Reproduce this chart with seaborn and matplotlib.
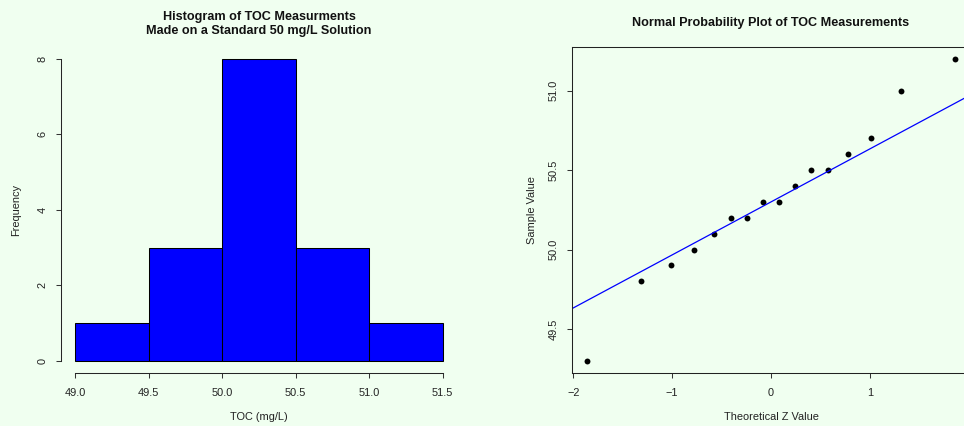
import numpy as np
import pandas as pd
import matplotlib
matplotlib.use("Agg")
import matplotlib.pyplot as plt
import seaborn as sns

# ---- data ----
toc = [49.3, 49.8, 49.9, 50.0, 50.1, 50.2, 50.2, 50.3,
       50.3, 50.4, 50.5, 50.5, 50.6, 50.7, 51.0, 51.2]
theoretical_z = [-1.86, -1.32, -1.01, -0.78, -0.58, -0.40, -0.24, -0.08,
                 0.08, 0.24, 0.40, 0.58, 0.78, 1.01, 1.32, 1.86]
bin_edges = [49.0, 49.5, 50.0, 50.5, 51.0, 51.5]
hist_xticks = [49.0, 49.5, 50.0, 50.5, 51.0, 51.5]
hist_yticks = [0, 2, 4, 6, 8]
qq_xticks = [-2, -1, 0, 1]
qq_xticklabels = ["\u22122", "\u22121", "0", "1"]
qq_yticks = [49.5, 50.0, 50.5, 51.0]
z_quartile = 0.6745

BG = "#F0FFF0"
sns.set_theme(style="ticks")
plt.rcParams["font.family"] = ["Liberation Sans", "DejaVu Sans"]
plt.rcParams["axes.linewidth"] = 0.75
plt.rcParams["xtick.major.width"] = 0.75
plt.rcParams["ytick.major.width"] = 0.75
plt.rcParams["xtick.major.size"] = 3.6
plt.rcParams["ytick.major.size"] = 3.6

W, H = 964, 426
fig = plt.figure(figsize=(W / 100, H / 100), dpi=100, facecolor=BG)

def frac(l, t, r, b):
    return [l / W, 1 - b / H, (r - l) / W, (b - t) / H]

TICK_FS = 7.9
LAB_FS = 7.9
TITLE_FS = 9.05

# ---- left: histogram ----
ax1 = fig.add_axes(frac(60.6, 46.9, 457.4, 372.8))
ax1.set_facecolor(BG)
df = pd.DataFrame({"toc": toc})
# R histograms use right-closed bins
edges_rc = np.array(bin_edges) + 1e-9
sns.histplot(data=df, x="toc", bins=edges_rc, color="blue", edgecolor="black",
             linewidth=0.75, alpha=1.0, ax=ax1)
ax1.set_xlim(48.9, 51.6)
ax1.set_ylim(-0.32, 8.32)
ax1.set_xticks(hist_xticks)
ax1.set_xticklabels([f"{v:.1f}" for v in hist_xticks], fontsize=TICK_FS)
ax1.set_yticks(hist_yticks)
ax1.set_yticklabels([str(v) for v in hist_yticks], fontsize=TICK_FS,
                    rotation=90, va="center")
for s in ["top", "right"]:
    ax1.spines[s].set_visible(False)
ax1.spines["bottom"].set_bounds(49.0, 51.5)
ax1.spines["left"].set_bounds(0, 8)
ax1.tick_params(axis="x", pad=7, colors="#333333", labelcolor="#222222")
ax1.tick_params(axis="y", pad=6, colors="#333333", labelcolor="#222222")
ax1.set_xlabel("TOC (mg/L)", fontsize=LAB_FS, color="#222222")
ax1.set_ylabel("Frequency", fontsize=LAB_FS, color="#222222")
ax1.xaxis.set_label_coords(0.5, -(416.7 - 372.8) / 325.9)
ax1.xaxis.label.set_va("center")
ax1.yaxis.set_label_coords(-(60.6 - 15.7) / 396.8, 0.5)
ax1.yaxis.label.set_va("center")
ax1.set_title("Histogram of TOC Measurments\nMade on a Standard 50 mg/L Solution",
              fontsize=TITLE_FS, fontweight="bold", color="#111111",
              linespacing=1.3, pad=9)

# ---- right: normal probability plot ----
ax2 = fig.add_axes(frac(572.2, 46.9, 969.8, 372.8))
ax2.set_facecolor(BG)
sns.scatterplot(x=theoretical_z, y=toc, color="black", s=18, linewidth=0, ax=ax2)
q1, q3 = np.quantile(toc, [0.25, 0.75])
slope = (q3 - q1) / (2 * z_quartile)
intercept = q1 + slope * z_quartile
ax2.axline((0, intercept), slope=slope, color="blue", linewidth=0.9)
ax2.set_xlim(-2.012, 2.012)
ax2.set_ylim(49.224, 51.276)
ax2.set_xticks(qq_xticks)
ax2.set_xticklabels(qq_xticklabels, fontsize=TICK_FS)
ax2.set_yticks(qq_yticks)
ax2.set_yticklabels([f"{v:.1f}" for v in qq_yticks], fontsize=TICK_FS,
                    rotation=90, va="center")
ax2.tick_params(axis="x", pad=7, colors="#333333", labelcolor="#222222")
ax2.tick_params(axis="y", pad=6, colors="#333333", labelcolor="#222222")
for s in ax2.spines.values():
    s.set_color("#222222")
ax2.set_xlabel("Theoretical Z Value", fontsize=LAB_FS, color="#222222")
ax2.set_ylabel("Sample Value", fontsize=LAB_FS, color="#222222")
ax2.xaxis.set_label_coords(0.5, -(416.7 - 372.8) / 325.9)
ax2.xaxis.label.set_va("center")
ax2.yaxis.set_label_coords(-(572.2 - 531.7) / 397.6, 0.5)
ax2.yaxis.label.set_va("center")
ax2.set_title("Normal Probability Plot of TOC Measurements",
              fontsize=TITLE_FS, fontweight="bold", color="#111111", pad=15)

fig.savefig("out.png", dpi=100, facecolor=BG)
